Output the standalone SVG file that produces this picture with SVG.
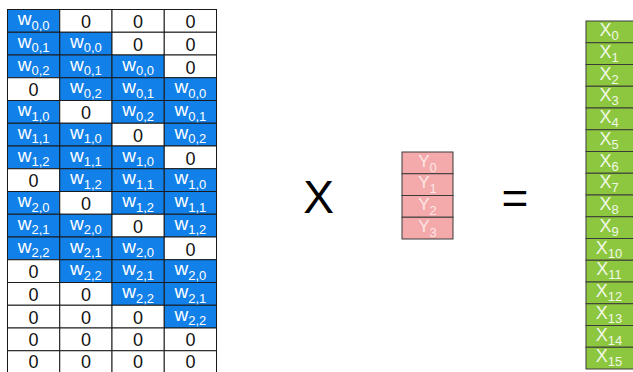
<svg xmlns="http://www.w3.org/2000/svg" width="633" height="372" viewBox="0 0 633 372">
<style>
.cz{fill:#ffffff;stroke:#1a1a1a;stroke-width:1}
.cw{fill:#1180e8;stroke:#1a1a1a;stroke-width:1}
.t{font-family:"Liberation Sans",Arial,sans-serif;text-anchor:middle}
.z{font-size:18px;fill:#111}
.w{font-size:19px;fill:#ffffff}
.s{font-size:13px}
.cy{fill:#f4aaaa;stroke:#3a3a3a;stroke-width:1}
.y{font-size:17px;fill:#fde6e6}
.cx{fill:#8dc63f;stroke:#3a3a3a;stroke-width:1}
.x{font-size:18px;fill:#f0f8e6}
.op{font-family:"Liberation Sans",Arial,sans-serif;font-size:46px;fill:#000;text-anchor:middle}
</style>
<g id="matrixW">
<g id="w-r0"><rect class="cw" x="7.5" y="9.5" width="52.25" height="22.75"/><text class="t w" x="33.6" y="25">w<tspan class="s" dy="4.5">0,0</tspan></text><rect class="cz" x="59.75" y="9.5" width="52.25" height="22.75"/><text class="t z" x="85.9" y="28">0</text><rect class="cz" x="112" y="9.5" width="52.25" height="22.75"/><text class="t z" x="138.1" y="28">0</text><rect class="cz" x="164.25" y="9.5" width="52.25" height="22.75"/><text class="t z" x="190.4" y="28">0</text></g>
<g id="w-r1"><rect class="cw" x="7.5" y="32.25" width="52.25" height="22.75"/><text class="t w" x="33.6" y="47.75">w<tspan class="s" dy="4.5">0,1</tspan></text><rect class="cw" x="59.75" y="32.25" width="52.25" height="22.75"/><text class="t w" x="85.9" y="47.75">w<tspan class="s" dy="4.5">0,0</tspan></text><rect class="cz" x="112" y="32.25" width="52.25" height="22.75"/><text class="t z" x="138.1" y="50.75">0</text><rect class="cz" x="164.25" y="32.25" width="52.25" height="22.75"/><text class="t z" x="190.4" y="50.75">0</text></g>
<g id="w-r2"><rect class="cw" x="7.5" y="55" width="52.25" height="22.75"/><text class="t w" x="33.6" y="70.5">w<tspan class="s" dy="4.5">0,2</tspan></text><rect class="cw" x="59.75" y="55" width="52.25" height="22.75"/><text class="t w" x="85.9" y="70.5">w<tspan class="s" dy="4.5">0,1</tspan></text><rect class="cw" x="112" y="55" width="52.25" height="22.75"/><text class="t w" x="138.1" y="70.5">w<tspan class="s" dy="4.5">0,0</tspan></text><rect class="cz" x="164.25" y="55" width="52.25" height="22.75"/><text class="t z" x="190.4" y="73.5">0</text></g>
<g id="w-r3"><rect class="cz" x="7.5" y="77.75" width="52.25" height="22.75"/><text class="t z" x="33.6" y="96.25">0</text><rect class="cw" x="59.75" y="77.75" width="52.25" height="22.75"/><text class="t w" x="85.9" y="93.25">w<tspan class="s" dy="4.5">0,2</tspan></text><rect class="cw" x="112" y="77.75" width="52.25" height="22.75"/><text class="t w" x="138.1" y="93.25">w<tspan class="s" dy="4.5">0,1</tspan></text><rect class="cw" x="164.25" y="77.75" width="52.25" height="22.75"/><text class="t w" x="190.4" y="93.25">w<tspan class="s" dy="4.5">0,0</tspan></text></g>
<g id="w-r4"><rect class="cw" x="7.5" y="100.5" width="52.25" height="22.75"/><text class="t w" x="33.6" y="116">w<tspan class="s" dy="4.5">1,0</tspan></text><rect class="cz" x="59.75" y="100.5" width="52.25" height="22.75"/><text class="t z" x="85.9" y="119">0</text><rect class="cw" x="112" y="100.5" width="52.25" height="22.75"/><text class="t w" x="138.1" y="116">w<tspan class="s" dy="4.5">0,2</tspan></text><rect class="cw" x="164.25" y="100.5" width="52.25" height="22.75"/><text class="t w" x="190.4" y="116">w<tspan class="s" dy="4.5">0,1</tspan></text></g>
<g id="w-r5"><rect class="cw" x="7.5" y="123.25" width="52.25" height="22.75"/><text class="t w" x="33.6" y="138.75">w<tspan class="s" dy="4.5">1,1</tspan></text><rect class="cw" x="59.75" y="123.25" width="52.25" height="22.75"/><text class="t w" x="85.9" y="138.75">w<tspan class="s" dy="4.5">1,0</tspan></text><rect class="cz" x="112" y="123.25" width="52.25" height="22.75"/><text class="t z" x="138.1" y="141.75">0</text><rect class="cw" x="164.25" y="123.25" width="52.25" height="22.75"/><text class="t w" x="190.4" y="138.75">w<tspan class="s" dy="4.5">0,2</tspan></text></g>
<g id="w-r6"><rect class="cw" x="7.5" y="146" width="52.25" height="22.75"/><text class="t w" x="33.6" y="161.5">w<tspan class="s" dy="4.5">1,2</tspan></text><rect class="cw" x="59.75" y="146" width="52.25" height="22.75"/><text class="t w" x="85.9" y="161.5">w<tspan class="s" dy="4.5">1,1</tspan></text><rect class="cw" x="112" y="146" width="52.25" height="22.75"/><text class="t w" x="138.1" y="161.5">w<tspan class="s" dy="4.5">1,0</tspan></text><rect class="cz" x="164.25" y="146" width="52.25" height="22.75"/><text class="t z" x="190.4" y="164.5">0</text></g>
<g id="w-r7"><rect class="cz" x="7.5" y="168.75" width="52.25" height="22.75"/><text class="t z" x="33.6" y="187.25">0</text><rect class="cw" x="59.75" y="168.75" width="52.25" height="22.75"/><text class="t w" x="85.9" y="184.25">w<tspan class="s" dy="4.5">1,2</tspan></text><rect class="cw" x="112" y="168.75" width="52.25" height="22.75"/><text class="t w" x="138.1" y="184.25">w<tspan class="s" dy="4.5">1,1</tspan></text><rect class="cw" x="164.25" y="168.75" width="52.25" height="22.75"/><text class="t w" x="190.4" y="184.25">w<tspan class="s" dy="4.5">1,0</tspan></text></g>
<g id="w-r8"><rect class="cw" x="7.5" y="191.5" width="52.25" height="22.75"/><text class="t w" x="33.6" y="207">w<tspan class="s" dy="4.5">2,0</tspan></text><rect class="cz" x="59.75" y="191.5" width="52.25" height="22.75"/><text class="t z" x="85.9" y="210">0</text><rect class="cw" x="112" y="191.5" width="52.25" height="22.75"/><text class="t w" x="138.1" y="207">w<tspan class="s" dy="4.5">1,2</tspan></text><rect class="cw" x="164.25" y="191.5" width="52.25" height="22.75"/><text class="t w" x="190.4" y="207">w<tspan class="s" dy="4.5">1,1</tspan></text></g>
<g id="w-r9"><rect class="cw" x="7.5" y="214.25" width="52.25" height="22.75"/><text class="t w" x="33.6" y="229.75">w<tspan class="s" dy="4.5">2,1</tspan></text><rect class="cw" x="59.75" y="214.25" width="52.25" height="22.75"/><text class="t w" x="85.9" y="229.75">w<tspan class="s" dy="4.5">2,0</tspan></text><rect class="cz" x="112" y="214.25" width="52.25" height="22.75"/><text class="t z" x="138.1" y="232.75">0</text><rect class="cw" x="164.25" y="214.25" width="52.25" height="22.75"/><text class="t w" x="190.4" y="229.75">w<tspan class="s" dy="4.5">1,2</tspan></text></g>
<g id="w-r10"><rect class="cw" x="7.5" y="237" width="52.25" height="22.75"/><text class="t w" x="33.6" y="252.5">w<tspan class="s" dy="4.5">2,2</tspan></text><rect class="cw" x="59.75" y="237" width="52.25" height="22.75"/><text class="t w" x="85.9" y="252.5">w<tspan class="s" dy="4.5">2,1</tspan></text><rect class="cw" x="112" y="237" width="52.25" height="22.75"/><text class="t w" x="138.1" y="252.5">w<tspan class="s" dy="4.5">2,0</tspan></text><rect class="cz" x="164.25" y="237" width="52.25" height="22.75"/><text class="t z" x="190.4" y="255.5">0</text></g>
<g id="w-r11"><rect class="cz" x="7.5" y="259.75" width="52.25" height="22.75"/><text class="t z" x="33.6" y="278.25">0</text><rect class="cw" x="59.75" y="259.75" width="52.25" height="22.75"/><text class="t w" x="85.9" y="275.25">w<tspan class="s" dy="4.5">2,2</tspan></text><rect class="cw" x="112" y="259.75" width="52.25" height="22.75"/><text class="t w" x="138.1" y="275.25">w<tspan class="s" dy="4.5">2,1</tspan></text><rect class="cw" x="164.25" y="259.75" width="52.25" height="22.75"/><text class="t w" x="190.4" y="275.25">w<tspan class="s" dy="4.5">2,0</tspan></text></g>
<g id="w-r12"><rect class="cz" x="7.5" y="282.5" width="52.25" height="22.75"/><text class="t z" x="33.6" y="301">0</text><rect class="cz" x="59.75" y="282.5" width="52.25" height="22.75"/><text class="t z" x="85.9" y="301">0</text><rect class="cw" x="112" y="282.5" width="52.25" height="22.75"/><text class="t w" x="138.1" y="298">w<tspan class="s" dy="4.5">2,2</tspan></text><rect class="cw" x="164.25" y="282.5" width="52.25" height="22.75"/><text class="t w" x="190.4" y="298">w<tspan class="s" dy="4.5">2,1</tspan></text></g>
<g id="w-r13"><rect class="cz" x="7.5" y="305.25" width="52.25" height="22.75"/><text class="t z" x="33.6" y="323.75">0</text><rect class="cz" x="59.75" y="305.25" width="52.25" height="22.75"/><text class="t z" x="85.9" y="323.75">0</text><rect class="cz" x="112" y="305.25" width="52.25" height="22.75"/><text class="t z" x="138.1" y="323.75">0</text><rect class="cw" x="164.25" y="305.25" width="52.25" height="22.75"/><text class="t w" x="190.4" y="320.75">w<tspan class="s" dy="4.5">2,2</tspan></text></g>
<g id="w-r14"><rect class="cz" x="7.5" y="328" width="52.25" height="22.75"/><text class="t z" x="33.6" y="346.3">0</text><rect class="cz" x="59.75" y="328" width="52.25" height="22.75"/><text class="t z" x="85.9" y="346.3">0</text><rect class="cz" x="112" y="328" width="52.25" height="22.75"/><text class="t z" x="138.1" y="346.3">0</text><rect class="cz" x="164.25" y="328" width="52.25" height="22.75"/><text class="t z" x="190.4" y="346.3">0</text></g>
<g id="w-r15"><rect class="cz" x="7.5" y="350.75" width="52.25" height="22.75"/><text class="t z" x="33.6" y="367.5">0</text><rect class="cz" x="59.75" y="350.75" width="52.25" height="22.75"/><text class="t z" x="85.9" y="367.5">0</text><rect class="cz" x="112" y="350.75" width="52.25" height="22.75"/><text class="t z" x="138.1" y="367.5">0</text><rect class="cz" x="164.25" y="350.75" width="52.25" height="22.75"/><text class="t z" x="190.4" y="367.5">0</text></g>
</g>
<g id="times"><text class="op" x="318.5" y="212.5">X</text></g>
<g id="vectorY">
<g id="y0"><rect class="cy" x="402" y="152" width="51" height="21.75"/><text class="t y" x="427.5" y="166.7">Y<tspan class="s" dy="5">0</tspan></text></g>
<g id="y1"><rect class="cy" x="402" y="173.75" width="51" height="21.75"/><text class="t y" x="427.5" y="188.45">Y<tspan class="s" dy="5">1</tspan></text></g>
<g id="y2"><rect class="cy" x="402" y="195.5" width="51" height="21.75"/><text class="t y" x="427.5" y="210.2">Y<tspan class="s" dy="5">2</tspan></text></g>
<g id="y3"><rect class="cy" x="402" y="217.25" width="51" height="21.75"/><text class="t y" x="427.5" y="231.95">Y<tspan class="s" dy="5">3</tspan></text></g>
</g>
<g id="equals"><text class="op" x="515" y="214">=</text></g>
<g id="vectorX">
<g id="x0"><rect class="cx" x="586" y="21" width="50" height="21.75"/><text class="t x" x="609" y="36">X<tspan class="s" dy="4">0</tspan></text></g>
<g id="x1"><rect class="cx" x="586" y="42.75" width="50" height="21.75"/><text class="t x" x="609" y="57.75">X<tspan class="s" dy="4">1</tspan></text></g>
<g id="x2"><rect class="cx" x="586" y="64.5" width="50" height="21.75"/><text class="t x" x="609" y="79.5">X<tspan class="s" dy="4">2</tspan></text></g>
<g id="x3"><rect class="cx" x="586" y="86.25" width="50" height="21.75"/><text class="t x" x="609" y="101.25">X<tspan class="s" dy="4">3</tspan></text></g>
<g id="x4"><rect class="cx" x="586" y="108" width="50" height="21.75"/><text class="t x" x="609" y="123">X<tspan class="s" dy="4">4</tspan></text></g>
<g id="x5"><rect class="cx" x="586" y="129.75" width="50" height="21.75"/><text class="t x" x="609" y="144.75">X<tspan class="s" dy="4">5</tspan></text></g>
<g id="x6"><rect class="cx" x="586" y="151.5" width="50" height="21.75"/><text class="t x" x="609" y="166.5">X<tspan class="s" dy="4">6</tspan></text></g>
<g id="x7"><rect class="cx" x="586" y="173.25" width="50" height="21.75"/><text class="t x" x="609" y="188.25">X<tspan class="s" dy="4">7</tspan></text></g>
<g id="x8"><rect class="cx" x="586" y="195" width="50" height="21.75"/><text class="t x" x="609" y="210">X<tspan class="s" dy="4">8</tspan></text></g>
<g id="x9"><rect class="cx" x="586" y="216.75" width="50" height="21.75"/><text class="t x" x="609" y="231.75">X<tspan class="s" dy="4">9</tspan></text></g>
<g id="x10"><rect class="cx" x="586" y="238.5" width="50" height="21.75"/><text class="t x" x="609" y="253.5">X<tspan class="s" dy="4">10</tspan></text></g>
<g id="x11"><rect class="cx" x="586" y="260.25" width="50" height="21.75"/><text class="t x" x="609" y="275.25">X<tspan class="s" dy="4">11</tspan></text></g>
<g id="x12"><rect class="cx" x="586" y="282" width="50" height="21.75"/><text class="t x" x="609" y="297">X<tspan class="s" dy="4">12</tspan></text></g>
<g id="x13"><rect class="cx" x="586" y="303.75" width="50" height="21.75"/><text class="t x" x="609" y="318.75">X<tspan class="s" dy="4">13</tspan></text></g>
<g id="x14"><rect class="cx" x="586" y="325.5" width="50" height="21.75"/><text class="t x" x="609" y="340.5">X<tspan class="s" dy="4">14</tspan></text></g>
<g id="x15"><rect class="cx" x="586" y="347.25" width="50" height="21.75"/><text class="t x" x="609" y="362.25">X<tspan class="s" dy="4">15</tspan></text></g>
</g>
</svg>
